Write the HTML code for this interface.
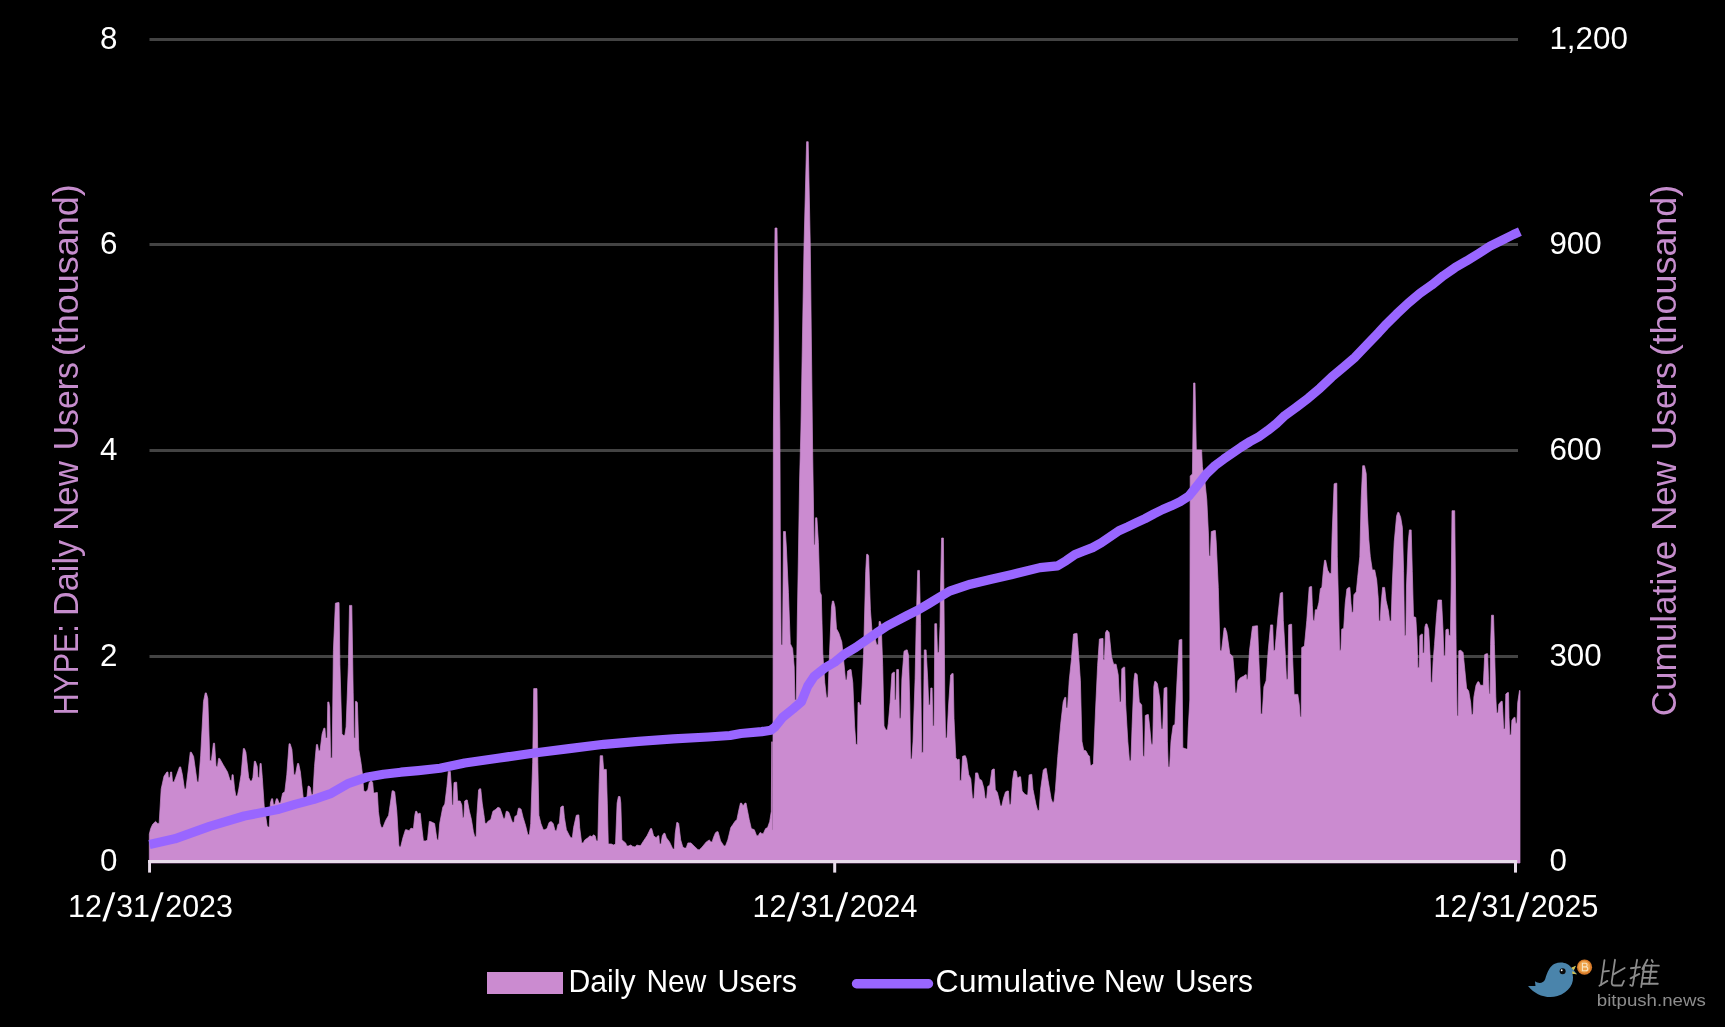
<!DOCTYPE html>
<html><head><meta charset="utf-8"><title>HYPE Daily New Users</title>
<style>
html,body{margin:0;padding:0;background:#000;}
body{width:1725px;height:1027px;overflow:hidden;font-family:"Liberation Sans",sans-serif;}
svg{display:block;will-change:transform;font-family:"Liberation Sans",sans-serif;}
</style></head><body>
<svg width="1725" height="1027" viewBox="0 0 1725 1027">
<rect width="1725" height="1027" fill="#000"/>
<rect x="149.5" y="38.0" width="1368.5" height="3" fill="#434343"/><rect x="149.5" y="243.0" width="1368.5" height="3" fill="#434343"/><rect x="149.5" y="449.0" width="1368.5" height="3" fill="#434343"/><rect x="149.5" y="655.0" width="1368.5" height="3" fill="#434343"/>
<path d="M149.3,863 L149.3,834.1 L149.3,834.1 L150.7,828.5 L152.7,824.2 L155.5,821.4 L157.65,823.4 L159.15,823.4 L161.2,788.9 L164.0,776.2 L166.85,772.0 L167.95,772.0 L168.35,777.6 L169.85,777.6 L170.55,772.0 L171.65,772.0 L172.55,781.9 L174.05,781.9 L176.7,774.8 L179.55,766.9 L180.65,766.9 L182.4,774.8 L184.45,788.9 L185.95,788.9 L188.0,772.0 L190.25,752.2 L191.35,752.2 L193.6,756.5 L197.15,781.9 L198.65,781.9 L200.7,755.1 L203.5,701.4 L205.25,692.9 L206.35,692.9 L207.8,698.6 L209.85,760.7 L211.35,760.7 L213.45,743.2 L214.55,743.2 L216.05,766.4 L217.55,766.4 L218.55,758.4 L219.65,758.4 L223.3,764.9 L227.5,772.0 L230.15,780.5 L231.65,780.5 L232.05,774.8 L233.15,774.8 L234.6,788.9 L235.85,796.0 L237.35,796.0 L238.8,788.9 L241.1,774.8 L243.35,748.6 L244.45,748.6 L245.9,752.2 L248.7,777.6 L250.25,781.0 L251.75,781.0 L252.9,777.6 L254.35,761.3 L255.45,761.3 L257.2,766.4 L257.97,777.6 L259.35,777.6 L260.05,763.5 L261.15,763.5 L262.3,777.6 L264.2,805.9 L267.1,825.6 L267.87,827.1 L269.25,827.1 L270.4,803.1 L271.55,798.8 L272.65,798.8 L273.35,804.5 L274.85,804.5 L276.35,798.8 L277.45,798.8 L279.05,803.1 L280.55,803.1 L282.6,793.2 L284.8,791.8 L286.8,774.8 L289.05,743.8 L290.15,743.8 L291.9,749.4 L293.95,774.8 L295.45,774.8 L297.55,763.5 L298.65,763.5 L300.4,772.0 L303.2,797.4 L305.25,798.8 L306.75,798.8 L308.05,786.1 L309.15,786.1 L310.3,787.5 L311.45,794.6 L312.95,794.6 L314.5,766.4 L316.45,744.6 L317.55,744.6 L318.55,750.8 L320.05,750.8 L322.1,733.9 L323.85,728.2 L324.95,728.2 L325.65,738.1 L327.15,738.1 L327.75,702.0 L328.85,702.0 L329.7,707.1 L330.65,757.9 L332.15,757.9 L333.4,650.6 L335.4,603.2 L337.95,602.6 L339.05,602.6 L339.9,664.7 L341.9,733.9 L343.35,735.3 L344.85,735.3 L346.1,726.8 L348.4,664.7 L349.5,605.4 L351.8,605.4 L353.2,692.9 L353.97,738.1 L355.23,738.1 L355.45,701.4 L356.55,701.4 L357.4,702.8 L358.8,749.4 L361.1,763.5 L362.5,774.5 L363.7,790.8 L365.7,791.8 L367.8,789.8 L369.2,782.6 L371.2,780.6 L372.7,782.6 L373.58,792.9 L375.05,792.9 L376.25,792.5 L377.35,792.5 L378.4,811.3 L380.0,823.5 L381.35,827.6 L382.85,827.6 L385.6,820.5 L388.6,815.3 L390.7,801.0 L392.15,790.8 L393.25,790.8 L394.7,791.8 L396.8,811.3 L398.8,845.0 L399.4,847.0 L400.65,847.0 L402.9,837.8 L405.45,829.7 L406.55,829.7 L409.1,830.7 L411.1,828.0 L411.98,828.6 L413.45,828.6 L414.8,815.3 L415.65,811.3 L416.75,811.3 L417.8,814.3 L419.15,813.3 L420.25,813.3 L421.3,823.5 L423.4,840.9 L425.8,840.9 L427.5,839.9 L429.35,821.5 L430.45,821.5 L432.6,822.5 L434.6,823.5 L436.7,837.8 L437.25,839.9 L438.45,839.9 L439.7,823.5 L442.8,807.2 L444.8,804.1 L446.9,786.7 L448.3,771.4 L450.3,771.4 L451.6,790.8 L452.04,805.1 L453.12,805.1 L454.0,782.6 L455.55,782.2 L456.65,782.2 L457.7,801.0 L460.2,801.0 L461.8,805.1 L462.57,817.4 L463.88,817.4 L464.7,801.0 L466.15,800.0 L467.25,800.0 L469.4,811.3 L471.4,819.4 L473.4,831.7 L474.75,836.8 L476.13,836.8 L476.9,815.3 L478.6,789.8 L479.65,788.8 L480.75,788.8 L482.2,803.1 L484.3,817.4 L485.07,823.5 L486.45,823.5 L487.8,821.5 L490.8,819.4 L492.9,811.3 L495.9,809.2 L498.0,807.2 L500.0,808.2 L502.1,814.3 L503.35,818.4 L504.85,818.4 L506.25,811.3 L507.35,811.3 L508.8,812.3 L511.3,819.4 L512.55,822.5 L514.02,822.5 L514.9,816.4 L517.0,815.3 L518.45,808.2 L519.55,808.2 L521.1,809.2 L523.1,817.4 L525.6,825.6 L527.85,834.8 L529.35,834.8 L530.7,823.5 L532.7,762.2 L533.7,688.6 L537.0,688.6 L537.8,762.2 L538.9,815.3 L540.9,823.5 L543.25,829.7 L544.75,829.7 L547.0,828.6 L549.1,822.5 L551.1,821.5 L553.2,823.5 L555.05,830.7 L556.55,830.7 L557.9,824.5 L559.3,823.5 L560.7,807.2 L562.25,806.1 L563.35,806.1 L564.4,817.4 L566.4,829.7 L569.5,835.8 L570.85,837.8 L572.35,837.8 L573.6,827.6 L576.3,815.3 L577.75,814.9 L578.85,814.9 L579.7,827.6 L581.65,842.9 L583.15,842.9 L584.8,839.9 L587.9,837.8 L590.0,835.8 L592.0,836.8 L593.4,834.8 L595.1,835.8 L596.35,840.9 L597.85,840.9 L599.2,782.6 L600.2,755.7 L602.6,755.7 L603.6,769.4 L606.3,769.4 L607.3,803.1 L608.3,844.0 L611.4,844.0 L613.5,845.0 L615.5,844.0 L617.1,803.1 L618.4,796.5 L620.0,796.5 L620.8,803.1 L621.9,839.9 L625.6,842.9 L626.85,846.0 L628.35,846.0 L630.7,845.0 L632.7,846.4 L635.2,847.0 L636.8,845.0 L639.15,845.6 L640.65,845.6 L642.9,841.9 L647.0,835.8 L650.55,828.6 L651.65,828.6 L653.6,835.8 L656.2,837.8 L657.75,835.8 L658.85,835.8 L659.55,844.0 L661.05,844.0 L662.3,835.8 L663.85,833.3 L664.95,833.3 L666.4,837.8 L669.5,841.9 L672.85,849.1 L674.32,849.1 L675.2,833.7 L676.75,822.5 L677.85,822.5 L678.7,823.5 L680.7,839.9 L682.8,847.0 L684.65,848.1 L686.15,848.1 L687.9,842.9 L691.0,842.9 L694.0,846.0 L697.95,849.7 L699.45,849.7 L702.2,847.0 L706.3,841.9 L709.4,839.9 L710.65,841.9 L712.15,841.9 L713.4,837.8 L715.5,832.7 L716.95,831.7 L718.05,831.7 L720.6,840.9 L723.95,846.0 L725.45,846.0 L727.8,839.9 L730.8,827.6 L732.9,824.5 L734.9,821.5 L736.9,819.4 L739.0,809.2 L740.45,803.1 L741.55,803.1 L743.1,806.1 L744.95,803.1 L746.05,803.1 L747.2,809.2 L749.2,819.4 L751.3,828.6 L754.3,829.7 L756.65,835.8 L758.15,835.8 L759.95,832.7 L761.05,832.7 L761.75,833.7 L763.25,833.7 L765.6,828.6 L767.6,827.6 L769.7,821.5 L771.3,811.3 L771.74,741.8 L772.28,741.8 L772.32,830.0 L772.9,830.0 L773.4,430.0 L775.0,228.0 L777.0,228.0 L779.9,430.0 L780.3,531.0 L781.12,645.0 L782.55,645.0 L783.5,531.5 L785.4,531.5 L786.4,548.0 L788.4,592.3 L790.3,643.7 L792.6,648.4 L794.2,667.0 L794.91,700.0 L796.25,700.0 L797.3,620.0 L798.5,550.0 L799.6,480.0 L800.9,430.0 L804.0,247.0 L806.6,141.7 L808.2,141.7 L810.3,247.0 L812.6,449.0 L813.4,500.0 L814.0,545.0 L815.0,545.0 L815.6,517.8 L816.9,517.8 L818.4,542.6 L819.9,592.0 L821.3,595.0 L822.8,653.6 L824.8,682.8 L826.45,697.4 L827.95,697.4 L829.5,653.6 L831.5,606.9 L832.45,601.0 L833.55,601.0 L835.0,606.9 L836.5,628.8 L838.8,633.0 L841.8,642.0 L844.7,671.0 L845.47,680.0 L846.77,680.0 L847.6,671.0 L849.95,669.6 L851.05,669.6 L852.8,682.8 L854.6,726.0 L855.95,744.5 L857.45,744.5 L858.05,702.5 L859.15,702.5 L859.65,705.0 L861.15,705.0 L862.5,679.0 L863.6,653.6 L865.7,571.8 L866.65,554.3 L867.75,554.3 L868.6,555.8 L870.4,609.8 L872.4,636.0 L875.3,639.0 L876.65,644.8 L878.15,644.8 L879.15,621.5 L880.25,621.5 L881.2,624.4 L882.7,665.7 L884.0,726.0 L885.95,730.0 L887.42,730.0 L888.3,723.5 L890.1,702.5 L891.9,673.6 L893.45,672.3 L894.55,672.3 L894.71,699.9 L895.93,699.9 L896.7,669.6 L898.5,669.6 L899.38,718.3 L900.85,718.3 L901.9,678.8 L904.0,651.2 L906.15,649.9 L907.25,649.9 L908.5,655.2 L909.8,705.0 L910.51,759.0 L911.85,759.0 L913.0,741.9 L915.1,678.8 L916.2,624.4 L917.7,570.4 L919.4,570.4 L920.6,624.4 L920.8,678.8 L921.68,752.4 L923.15,752.4 L924.3,649.9 L926.1,649.9 L927.7,678.8 L928.75,705.0 L930.09,705.0 L930.8,688.0 L932.1,688.0 L932.87,726.0 L934.09,726.0 L934.8,623.7 L936.6,623.7 L937.48,652.6 L938.95,652.6 L940.0,626.3 L940.4,595.0 L941.6,538.0 L943.4,538.0 L944.2,624.0 L944.8,700.0 L945.57,738.0 L946.95,738.0 L948.6,705.0 L950.6,675.0 L952.05,673.6 L953.15,673.6 L954.0,718.3 L955.8,757.7 L957.6,760.0 L958.21,759.3 L959.25,759.3 L959.75,780.4 L961.25,780.4 L962.6,756.3 L964.25,755.7 L965.35,755.7 L966.6,759.3 L968.7,774.4 L970.8,778.9 L972.45,798.6 L973.95,798.6 L975.6,772.9 L977.7,772.9 L979.3,778.9 L981.7,780.4 L983.8,788.0 L985.15,798.6 L986.65,798.6 L987.7,786.5 L989.8,785.0 L991.9,769.9 L993.25,769.0 L994.35,769.0 L995.3,789.5 L997.4,792.5 L999.5,801.6 L1000.33,806.1 L1001.75,806.1 L1003.4,798.6 L1005.5,791.9 L1007.35,791.0 L1008.45,791.0 L1009.35,804.6 L1010.85,804.6 L1012.5,780.4 L1014.05,770.8 L1015.15,770.8 L1016.4,771.4 L1017.23,777.4 L1018.65,777.4 L1019.45,776.8 L1020.55,776.8 L1022.1,791.0 L1024.6,794.0 L1026.25,794.9 L1027.75,794.9 L1029.1,775.0 L1030.65,774.4 L1031.75,774.4 L1033.0,789.5 L1036.0,804.6 L1037.65,810.6 L1039.15,810.6 L1040.6,789.5 L1043.3,769.9 L1045.15,768.4 L1046.25,768.4 L1048.1,780.4 L1051.1,798.6 L1052.45,802.2 L1053.95,802.2 L1055.4,789.5 L1057.8,756.3 L1060.8,723.1 L1063.2,701.9 L1064.75,697.4 L1065.85,697.4 L1066.12,708.0 L1067.55,708.0 L1069.2,680.8 L1071.4,659.7 L1073.5,634.0 L1075.95,633.4 L1077.05,633.4 L1078.3,650.6 L1080.4,680.8 L1081.9,741.2 L1083.7,750.2 L1085.9,750.8 L1088.0,754.8 L1089.5,756.3 L1090.33,765.3 L1091.75,765.3 L1093.4,763.8 L1095.5,711.0 L1097.6,665.7 L1099.4,639.1 L1101.95,638.5 L1103.04,638.5 L1103.16,659.7 L1104.45,659.7 L1105.5,632.5 L1107.0,630.1 L1109.1,632.5 L1111.5,656.6 L1113.6,664.2 L1116.1,664.2 L1118.2,674.8 L1119.55,701.9 L1120.97,701.9 L1121.8,668.7 L1123.65,667.2 L1124.75,667.2 L1125.7,704.9 L1127.8,741.2 L1129.45,760.8 L1130.95,760.8 L1132.1,726.1 L1133.9,680.8 L1134.85,673.2 L1135.95,673.2 L1137.2,674.8 L1139.3,701.9 L1141.7,704.9 L1143.05,756.3 L1144.47,756.3 L1145.3,715.5 L1147.25,714.6 L1148.35,714.6 L1149.9,729.1 L1151.25,744.2 L1152.75,744.2 L1153.8,686.8 L1154.75,681.4 L1155.85,681.4 L1157.4,683.8 L1159.8,698.9 L1161.25,729.1 L1162.75,729.1 L1164.1,688.3 L1165.95,687.4 L1166.9,687.4 L1167.4,741.2 L1168.23,766.9 L1169.65,766.9 L1171.0,741.2 L1173.1,725.5 L1174.9,724.6 L1177.0,680.8 L1179.2,640.0 L1181.05,639.4 L1181.87,639.4 L1182.2,680.8 L1182.8,747.8 L1186.25,749.0 L1187.54,749.0 L1188.2,729.1 L1189.8,700.0 L1190.2,475.9 L1192.4,474.0 L1193.6,383.0 L1195.0,383.0 L1196.3,450.0 L1201.6,450.0 L1202.4,466.8 L1205.0,482.6 L1206.8,500.1 L1208.5,535.1 L1209.11,556.1 L1210.35,556.1 L1211.3,531.6 L1214.25,530.5 L1215.35,530.5 L1216.2,542.1 L1218.3,587.6 L1220.05,650.7 L1221.55,650.7 L1224.15,627.9 L1225.25,627.9 L1226.8,632.5 L1229.8,653.6 L1232.8,656.6 L1234.4,674.8 L1235.23,692.9 L1236.65,692.9 L1238.0,680.8 L1240.4,677.8 L1243.4,676.3 L1245.25,674.8 L1246.34,674.8 L1246.46,679.3 L1247.75,679.3 L1249.5,650.6 L1252.5,626.4 L1256.45,625.8 L1257.55,625.8 L1258.5,650.6 L1260.0,686.8 L1260.83,714.0 L1262.25,714.0 L1263.9,686.8 L1266.1,680.8 L1268.2,650.6 L1270.6,624.9 L1272.7,624.9 L1273.53,650.6 L1274.95,650.6 L1276.0,638.5 L1278.1,614.4 L1280.3,593.2 L1281.55,592.6 L1282.64,592.6 L1283.3,620.4 L1285.1,650.6 L1286.45,679.3 L1287.88,679.3 L1288.7,624.9 L1290.55,624.3 L1291.64,624.3 L1292.3,650.6 L1294.1,694.4 L1297.8,694.4 L1299.3,704.9 L1300.12,717.0 L1301.2,717.0 L1301.7,647.6 L1304.4,646.1 L1306.8,620.4 L1309.2,587.2 L1310.55,586.6 L1311.64,586.6 L1312.3,605.3 L1313.12,620.4 L1314.47,620.4 L1315.3,609.8 L1317.1,609.8 L1318.9,602.3 L1320.4,588.7 L1321.9,587.2 L1323.4,570.1 L1324.55,560.3 L1325.65,560.3 L1327.6,570.1 L1329.65,573.6 L1331.15,573.6 L1332.1,535.1 L1334.1,483.8 L1335.85,483.2 L1336.81,483.2 L1337.3,556.8 L1338.8,615.2 L1339.57,650.2 L1340.88,650.2 L1341.7,629.2 L1343.7,628.3 L1345.2,603.5 L1346.9,588.9 L1348.75,587.4 L1349.85,587.4 L1351.0,603.5 L1351.83,612.3 L1353.13,612.3 L1353.9,594.7 L1356.3,591.8 L1357.7,577.2 L1359.8,556.8 L1361.2,498.4 L1362.7,465.7 L1364.5,465.7 L1366.2,473.6 L1367.4,513.0 L1368.8,539.3 L1370.3,556.8 L1372.3,569.9 L1374.7,569.9 L1376.7,580.1 L1378.2,597.7 L1378.97,621.0 L1380.27,621.0 L1381.1,603.5 L1382.6,587.4 L1384.6,587.4 L1386.1,600.6 L1388.4,610.8 L1389.65,621.0 L1391.15,621.0 L1392.2,586.0 L1394.2,542.2 L1396.6,515.9 L1397.75,512.4 L1398.85,512.4 L1400.7,517.4 L1402.4,527.6 L1403.6,571.4 L1404.55,635.6 L1405.84,635.6 L1406.5,586.0 L1408.2,542.2 L1409.4,529.9 L1411.2,529.9 L1412.3,571.4 L1413.5,616.6 L1415.8,617.5 L1417.0,638.5 L1417.83,667.7 L1419.13,667.7 L1419.9,635.6 L1421.45,634.2 L1422.55,634.2 L1422.77,653.1 L1424.08,653.1 L1424.9,626.9 L1425.85,623.9 L1426.95,623.9 L1428.7,629.8 L1430.1,656.1 L1430.92,682.3 L1432.27,682.3 L1433.1,661.9 L1434.5,644.4 L1436.6,615.2 L1438.0,600.0 L1441.5,600.0 L1443.0,629.8 L1443.83,656.1 L1445.13,656.1 L1445.9,629.8 L1447.15,629.2 L1448.25,629.2 L1448.95,635.6 L1450.38,635.6 L1451.2,586.0 L1452.0,510.7 L1454.7,510.7 L1455.5,586.0 L1456.4,673.6 L1457.06,715.9 L1458.14,715.9 L1458.8,650.8 L1460.8,650.2 L1463.1,652.6 L1464.9,670.7 L1466.6,688.2 L1468.7,691.1 L1470.7,702.8 L1471.53,714.5 L1472.95,714.5 L1473.9,696.9 L1476.0,685.3 L1477.75,681.8 L1478.85,681.8 L1480.4,685.3 L1483.3,685.3 L1484.7,654.6 L1486.55,653.7 L1487.65,653.7 L1488.5,679.4 L1489.16,694.0 L1490.11,694.0 L1490.6,644.4 L1491.5,615.2 L1493.5,615.2 L1494.4,644.4 L1495.8,696.9 L1496.62,713.0 L1497.97,713.0 L1498.8,704.2 L1501.15,701.3 L1502.19,701.3 L1502.8,711.5 L1503.62,729.1 L1504.97,729.1 L1505.8,694.0 L1507.55,692.6 L1508.5,692.6 L1509.0,717.4 L1509.77,734.9 L1511.08,734.9 L1511.9,720.3 L1513.95,717.4 L1515.05,717.4 L1515.55,723.2 L1516.93,723.2 L1517.7,702.8 L1519.5,690.5 L1520,690.5 L1520,863 Z" fill="#cb8bd0" stroke="#cb8bd0" stroke-width="0.7" stroke-linejoin="round"/>
<rect x="148.2" y="860" width="1369" height="3" fill="#e8dcea"/>
<rect x="148.1" y="860" width="2.9" height="12.6" fill="#e8dcea"/>
<rect x="833.2" y="860" width="3" height="12.6" fill="#e8dcea"/>
<rect x="1514" y="860" width="3" height="12.6" fill="#e8dcea"/>
<path d="M149.5,844.5 L174.8,838.8 L209.6,826.4 L244.3,816.0 L279.1,809.2 L295.0,804.4 L313.9,799.4 L331.3,793.3 L348.7,783.3 L366.1,777.3 L383.5,774.2 L400.9,772.2 L418.3,770.6 L440.0,768.2 L464.8,763.0 L499.6,758.0 L534.3,753.0 L569.1,748.6 L603.9,744.3 L638.7,741.3 L673.5,738.9 L708.3,737.0 L730.0,735.5 L740.9,733.5 L761.7,731.6 L771.0,730.2 L775.0,727.0 L782.6,717.4 L793.0,709.0 L801.4,701.7 L807.7,686.1 L813.9,676.7 L824.3,668.3 L834.8,662.1 L845.2,653.7 L855.7,647.5 L866.1,640.2 L876.5,632.9 L887.0,626.0 L907.8,615.1 L918.3,609.9 L928.7,603.7 L939.1,597.4 L949.6,591.1 L960.0,587.6 L970.4,584.2 L991.3,579.2 L1012.2,574.4 L1040.0,567.6 L1057.5,565.9 L1066.3,560.6 L1075.0,554.5 L1083.8,551.0 L1092.6,547.6 L1101.3,542.8 L1110.1,536.7 L1118.9,530.8 L1127.6,526.9 L1136.4,522.7 L1145.1,518.6 L1153.9,513.9 L1162.7,509.5 L1171.4,505.8 L1180.2,501.6 L1188.8,496.2 L1197.5,485.4 L1206.3,474.0 L1215.0,465.6 L1223.8,459.1 L1232.6,452.9 L1241.3,447.0 L1250.1,441.5 L1258.9,436.7 L1267.6,430.6 L1276.4,423.6 L1285.0,415.4 L1296.0,407.5 L1308.4,398.1 L1320.0,388.2 L1331.7,377.1 L1343.4,367.2 L1355.1,357.2 L1366.8,344.8 L1378.5,332.7 L1385.0,325.6 L1396.7,313.9 L1408.4,303.0 L1420.0,293.3 L1431.7,285.1 L1443.4,275.7 L1455.1,267.6 L1466.8,260.8 L1478.5,253.6 L1490.1,246.2 L1501.8,240.4 L1513.5,234.5 L1519.9,231.6" fill="none" stroke="#9966ff" stroke-width="9.2" stroke-linejoin="round" stroke-linecap="butt"/>
<rect x="487" y="972" width="76" height="22" fill="#cb8bd0"/>
<line x1="856.5" y1="983.8" x2="928.5" y2="983.8" stroke="#9966ff" stroke-width="9.4" stroke-linecap="round"/>
<text transform="translate(99.9,49.3) scale(0.98,1)" font-size="32" fill="#fff">8</text><text transform="translate(99.9,254.3) scale(0.98,1)" font-size="32" fill="#fff">6</text><text transform="translate(99.9,460.3) scale(0.98,1)" font-size="32" fill="#fff">4</text><text transform="translate(99.9,666.3) scale(0.98,1)" font-size="32" fill="#fff">2</text><text transform="translate(99.9,871.3) scale(0.98,1)" font-size="32" fill="#fff">0</text><text transform="translate(1549.4,49.3) scale(0.98,1)" font-size="32" fill="#fff">1,200</text><text transform="translate(1549.4,254.3) scale(0.98,1)" font-size="32" fill="#fff">900</text><text transform="translate(1549.4,460.3) scale(0.98,1)" font-size="32" fill="#fff">600</text><text transform="translate(1549.4,666.3) scale(0.98,1)" font-size="32" fill="#fff">300</text><text transform="translate(1549.4,871.3) scale(0.98,1)" font-size="32" fill="#fff">0</text><g transform="translate(0,0)" fill="#fff" font-size="32"><text transform="translate(68.1,917) scale(0.95,1)">12</text><text transform="translate(116.2,917) scale(0.95,1)">31</text><text transform="translate(165.3,917) scale(0.95,1)">2023</text><path d="M102.3,921.6 L105.6,921.6 L115.4,892.2 L112.4,892.2 Z"/><path d="M150.5,921.6 L153.8,921.6 L163.7,892.2 L160.6,892.2 Z"/></g><g transform="translate(684.5,0)" fill="#fff" font-size="32"><text transform="translate(68.1,917) scale(0.95,1)">12</text><text transform="translate(116.2,917) scale(0.95,1)">31</text><text transform="translate(165.3,917) scale(0.95,1)">2024</text><path d="M102.3,921.6 L105.6,921.6 L115.4,892.2 L112.4,892.2 Z"/><path d="M150.5,921.6 L153.8,921.6 L163.7,892.2 L160.6,892.2 Z"/></g><g transform="translate(1365.4,0)" fill="#fff" font-size="32"><text transform="translate(68.1,917) scale(0.95,1)">12</text><text transform="translate(116.2,917) scale(0.95,1)">31</text><text transform="translate(165.3,917) scale(0.95,1)">2025</text><path d="M102.3,921.6 L105.6,921.6 L115.4,892.2 L112.4,892.2 Z"/><path d="M150.5,921.6 L153.8,921.6 L163.7,892.2 L160.6,892.2 Z"/></g><text transform="translate(568.5,992.3) scale(0.944,1)" font-size="32" fill="#fff">Daily</text><text transform="translate(646.5,992.3) scale(0.933,1)" font-size="32" fill="#fff">New</text><text transform="translate(717.5,992.3) scale(0.953,1)" font-size="32" fill="#fff">Users</text><text transform="translate(935.6,992.3) scale(1.0,1)" font-size="32" fill="#fff">Cumulative</text><text transform="translate(1104.1,992.3) scale(0.933,1)" font-size="32" fill="#fff">New</text><text transform="translate(1175.1,992.3) scale(0.933,1)" font-size="32" fill="#fff">Users</text><text transform="translate(78.3,715.3) rotate(-90) scale(0.867,1)" font-size="35" fill="#c68dcd">HYPE:</text><text transform="translate(78.3,615.9) rotate(-90) scale(0.978,1)" font-size="35" fill="#c68dcd">Daily</text><text transform="translate(78.3,530.8) rotate(-90) scale(0.996,1)" font-size="35" fill="#c68dcd">New</text><text transform="translate(78.3,450.3) rotate(-90) scale(0.964,1)" font-size="35" fill="#c68dcd">Users</text><text transform="translate(78.3,356.3) rotate(-90) scale(1.029,1)" font-size="35" fill="#c68dcd">(thousand)</text><text transform="translate(1675.6,716.3) rotate(-90) scale(1.003,1)" font-size="35" fill="#c68dcd">Cumulative</text><text transform="translate(1675.6,530.8) rotate(-90) scale(0.996,1)" font-size="35" fill="#c68dcd">New</text><text transform="translate(1675.6,450.3) rotate(-90) scale(0.964,1)" font-size="35" fill="#c68dcd">Users</text><text transform="translate(1675.6,356.3) rotate(-90) scale(1.025,1)" font-size="35" fill="#c68dcd">(thousand)</text>
<g transform="translate(1500,940) scale(0.13043)">
<path d="M215,352 L272,352 L268,316 C298,338 332,332 346,300 C364,244 380,202 420,182 C470,160 528,178 548,214 L582,198 L566,232 L590,262 L556,258 C574,330 530,400 440,430 C356,452 268,420 215,352 Z" fill="#4a84ab"/>
<path d="M546,213 L582,197 L566,232 Z" fill="#d8c24a"/>
<path d="M556,238 L590,263 L554,259 Z" fill="#d8c24a"/>
<circle cx="480" cy="240" r="23" fill="#0a0a0a"/>
<circle cx="473" cy="232" r="7" fill="#fff"/>
<circle cx="648" cy="208" r="58" fill="#d97c2a"/>
<circle cx="646" cy="206" r="46" fill="#eea24a"/>
<path d="M632,178 h22 a14,14 0 0 1 0,28 h-22 z M632,206 h26 a15,15 0 0 1 0,30 h-26 z" fill="none" stroke="#f8e3c0" stroke-width="9"/>
</g>
<g transform="translate(1590,950) scale(0.072464)" fill="none" stroke="#8c8c8c" stroke-width="25" stroke-linecap="round" stroke-linejoin="round">
<path d="M200,140 L152,482"/><path d="M180,298 L262,288"/><path d="M130,494 L240,426"/>
<path d="M345,135 L300,440 Q296,490 340,490 L440,490 L468,426"/><path d="M478,248 L325,336"/>
<path d="M565,252 L690,236"/><path d="M650,135 L592,478 Q588,508 556,482"/><path d="M560,392 L680,330"/>
<path d="M792,135 L722,262"/><path d="M746,240 L706,512"/><path d="M852,138 L866,166"/><path d="M852,208 L816,465"/>
<path d="M752,216 L950,216"/><path d="M738,300 L920,300"/><path d="M726,384 L910,384"/><path d="M714,466 L936,466"/>
</g>
<text transform="translate(1596.8,1005.8) scale(1.125,1)" font-size="16.6" fill="#8c8c8c">bitpush.news</text>

</svg>
</body></html>
